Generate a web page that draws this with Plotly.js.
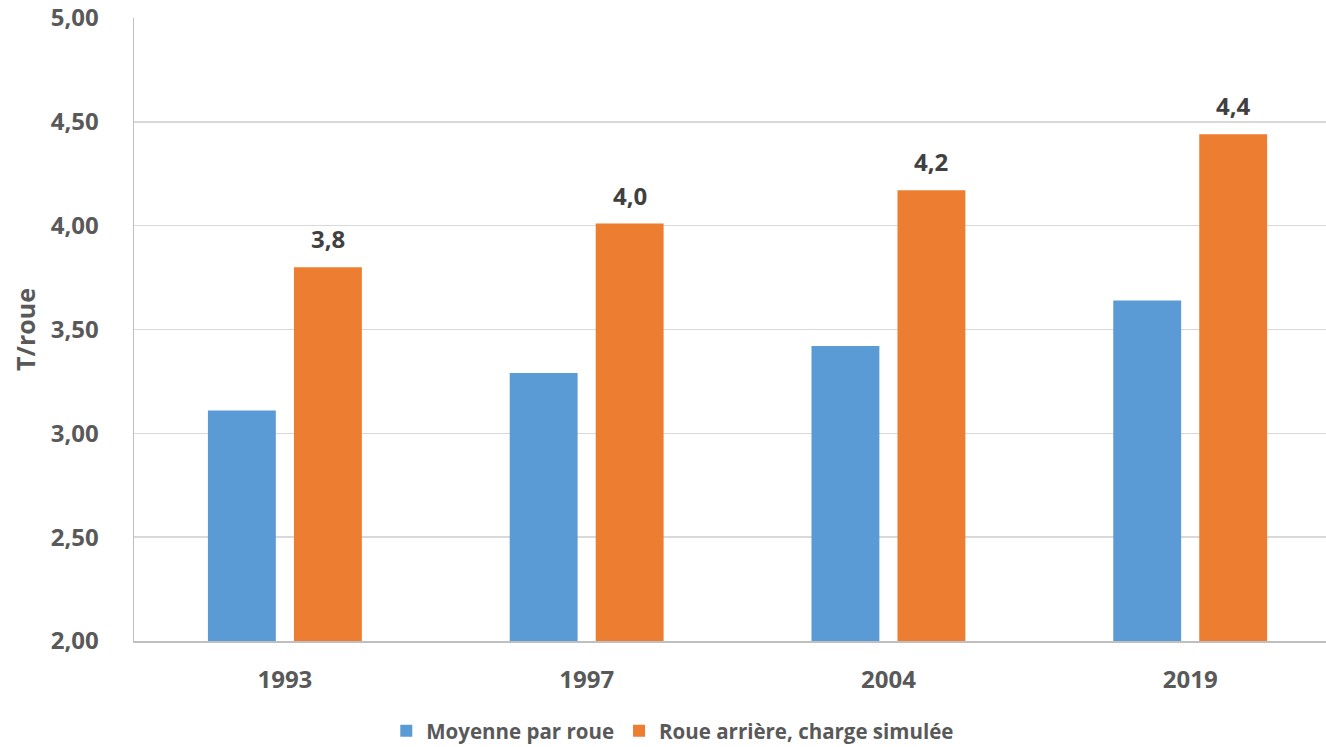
<!DOCTYPE html>
<html>
<head>
<meta charset="utf-8">
<script src="https://cdn.plot.ly/plotly-3.0.1.min.js"></script>
<style>html,body{margin:0;padding:0;background:#fff;}#chart{width:1326px;height:747px;}</style>
</head>
<body>
<div id="chart"></div>
<script>
const years = ["1993", "1997", "2004", "2019"];
const moyenne = [3.11, 3.29, 3.42, 3.64];
const roueArriere = [3.80, 4.01, 4.17, 4.44];
const seriesNames = ["Moyenne par roue", "Roue arrière, charge simulée"];
const yTitle = "T/roue";

const FONT = "Open Sans, sans-serif";
const GRAY = "#595959";

const traces = [
  {
    type: "bar", name: seriesNames[0], x: years, y: moyenne,
    marker: {color: "#5B9BD5"}, width: 0.225, offset: -0.255,
    hoverinfo: "y"
  },
  {
    type: "bar", name: seriesNames[1], x: years, y: roueArriere,
    marker: {color: "#ED7D31"}, width: 0.225, offset: 0.03,
    hoverinfo: "y"
  }
];

const annotations = years.map((yr, i) => ({
  x: i, y: roueArriere[i], xref: "x", yref: "y",
  text: roueArriere[i].toFixed(1).replace(".", ","),
  showarrow: false, yanchor: "bottom", xanchor: "center",
  xshift: (0.03 + 0.225 / 2) * 302, yshift: 10,
  font: {family: FONT, size: 24, color: "#404040", weight: "bold"}
}));

const layout = {
  width: 1326, height: 747,
  margin: {l: 134, r: 0, t: 18, b: 106, autoexpand: false},
  paper_bgcolor: "#fff", plot_bgcolor: "#fff",
  separators: ", ",
  barmode: "group",
  showlegend: true,
  legend: {
    orientation: "h", x: 0.452, xanchor: "center", y: -0.1445, yanchor: "middle",
    font: {family: FONT, size: 20.5, color: GRAY, weight: "bold"},
    itemwidth: 30
  },
  xaxis: {
    type: "category", range: [-0.5, 3.45],
    showgrid: false, zeroline: false,
    showline: true, linecolor: "#bfbfbf", linewidth: 1.5,
    ticks: "", ticklabelstandoff: 17,
    tickfont: {family: FONT, size: 24, color: GRAY, weight: "bold"}
  },
  yaxis: {
    range: [2, 5], dtick: 0.5, tick0: 2, tickformat: ".2f",
    showgrid: true, gridcolor: "#d9d9d9", gridwidth: 1.5,
    zeroline: false, showline: true, linecolor: "#bfbfbf", linewidth: 1.5,
    ticks: "", ticklabelstandoff: 29,
    tickfont: {family: FONT, size: 24, color: GRAY, weight: "bold"},
    title: {text: yTitle, standoff: 8, font: {family: FONT, size: 25, color: GRAY, weight: "bold"}}
  },
  annotations: annotations
};

Plotly.newPlot("chart", traces, layout, {displayModeBar: false, staticPlot: true});
</script>
</body>
</html>
